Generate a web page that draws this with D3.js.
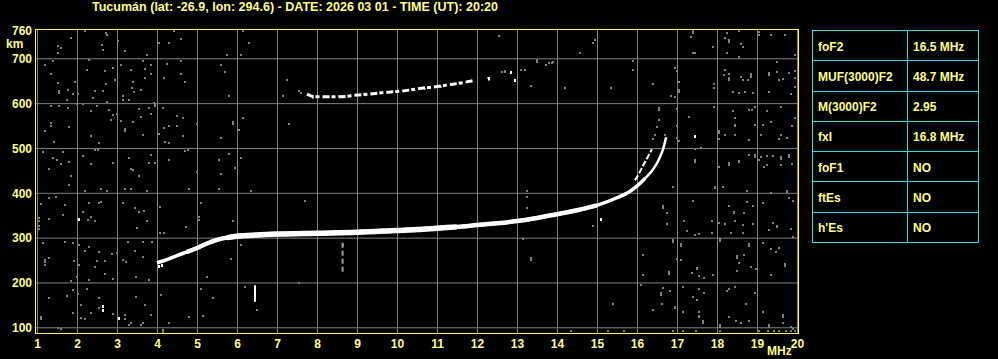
<!DOCTYPE html>
<html>
<head>
<meta charset="utf-8">
<script src="https://cdn.jsdelivr.net/npm/d3@7"></script>
<style>
html, body { margin: 0; padding: 0; background: #000; }
svg { display: block; }
text { font-family: "Liberation Sans", Arial, sans-serif; font-weight: bold; fill: #ffff80; }
</style>
</head>
<body>
<svg id="chart" width="998" height="359"></svg>
<script>
const titleText = "Tucumán (lat: -26.9, lon: 294.6) - DATE: 2026 03 01 - TIME (UT): 20:20";
const freqTicks = [1, 2, 3, 4, 5, 6, 7, 8, 9, 10, 11, 12, 13, 14, 15, 16, 17, 18, 19, 20];
const heightTicks = [100, 200, 300, 400, 500, 600, 700];

// table of scaled parameters
const paramNames = ["foF2", "MUF(3000)F2", "M(3000)F2", "fxI", "foF1", "ftEs", "h'Es"];
const paramValues = ["16.5 MHz", "48.7 MHz", "2.95", "16.8 MHz", "NO", "NO", "NO"];

// F2 trace, ordinary (freq MHz, virtual height km)
const traceF2 = [[4.0, 244], [4.25, 251], [4.5, 260], [4.75, 268], [5.0, 277], [5.25, 287], [5.5, 295],
  [5.75, 300], [6.0, 303], [6.5, 306], [7.0, 308], [8.0, 310], [9.0, 312], [10.0, 316], [10.5, 318],
  [11.0, 321], [11.5, 324], [12.0, 328], [12.5, 332], [13.0, 337], [13.5, 344], [14.0, 352], [14.5, 361],
  [15.0, 372], [15.5, 389], [15.8, 402], [16.0, 415], [16.2, 432], [16.4, 452], [16.55, 475],
  [16.65, 497], [16.73, 524]];
// second branch near the cusp
const traceX = [[15.95, 428], [16.05, 443], [16.16, 462], [16.27, 480], [16.37, 497]];
// second hop echo
const trace2F = [[7.75, 620], [7.95, 614], [8.3, 614], [8.7, 615], [9.0, 618], [9.3, 620], [9.7, 624],
  [10.0, 626], [10.3, 629], [10.6, 633], [11.0, 637], [11.3, 641], [11.6, 645], [11.9, 650]];

// vertical streaks: freq, h low, h high
const streaks = [[6.45, 157, 194], [8.64, 224, 291]];

const whiteDots = [[2.04, 342], [2.64, 147], [2.66, 138], [3.04, 121], [12.85, 669], [12.95, 652],
  [12.3, 655], [17.44, 526], [15.1, 341], [4.05, 236], [4.12, 239]];

const noiseLeft = [
  [2.2,762],[2.72,756],[2.74,752],[1.85,745],[1.52,727],[1.6,723],[1.52,712],[2.62,730],[2.64,718],[3.02,739],[3.2,717],
  [4.04,734],[4.31,734],[4.6,744],[4.42,762],[3.74,708],[1.2,686],[1.39,693],[1.35,666],[2.29,697],[2.24,675],
  [2.7,671],[2.89,678],[3.1,684],[3.35,675],[3.64,693],[3.7,677],[3.85,684],[3.85,666],[4.24,688],[4.6,693],
  [4.6,666],[4.18,656],[3.7,656],[2.95,652],[4.7,647],[1.52,645],[1.54,623],[1.54,628],[1.95,647],[1.78,630],
  [1.89,620],[2.02,620],[1.74,608],[2.45,626],[2.64,626],[2.72,643],[2.41,611],[3.14,617],[3.16,608],[3.31,608],
  [3.39,647],[3.37,634],[3.43,624],[3.6,630],[2.75,603],[3.93,600],[1.35,594],[1.54,594],[1.78,589],[1.99,597],
  [2.14,598],[2.49,594],[2.35,582],[2.81,585],[2.89,574],[3.0,576],[2.85,563],[3.1,561],[3.21,538],[3.21,543],
  [3.39,558],[3.54,588],[3.6,568],[3.66,528],[3.81,589],[3.85,575],[3.95,597],[3.95,593],[4.14,589],[4.04,531],
  [4.18,545],[4.31,550],[4.49,571],[4.64,567],[4.64,526],[4.49,550],[4.2,513],[4.31,512],[1.35,556],[1.35,550],
  [1.2,537],[1.43,513],[1.79,546],[2.35,527],[2.54,511],[1.14,491],[1.39,478],[1.5,474],[1.6,464],[1.64,491],
  [1.79,469],[1.31,452],[1.85,438],[2.14,483],[2.35,464],[2.46,496],[2.53,496],[2.89,466],[3.29,478],[3.35,452],
  [3.39,450],[3.56,438],[3.81,466],[3.85,485],[3.94,466],[4.29,474],[4.7,494],[4.78,495],
  [1.79,417],[2.21,404],[2.6,408],[2.76,404],[3.21,408],[3.35,408],[3.74,404],[4.81,408],[1.09,375],[1.31,388],
  [1.48,390],[1.7,373],[1.64,350],[1.04,343],[1.04,337],[1.06,320],[1.06,325],[1.29,342],[2.14,358],[2.29,377],
  [2.54,377],[2.6,380],[2.35,345],[2.27,339],[2.46,338],[3.16,377],[3.46,365],[3.54,358],[3.68,359],[3.49,322],
  [3.75,338],[4.08,369],[4.18,310],[4.08,310],[4.73,324],[1.14,289],[1.71,291],[1.89,289],[2.06,284],[2.21,271],
  [2.54,269],[2.3,280],[2.88,264],[2.99,266],[3.27,291],[3.46,271],[3.65,291],[3.88,291],[1.19,239],[1.19,245],
  [1.19,250],[1.31,254],[1.93,248],[2.04,240],[2.49,248],[2.71,247],[2.46,234],[2.71,220],[2.91,207],[3.16,251],
  [3.22,246],[3.48,213],[3.66,256],[3.79,205],[1.85,203],[2.0,213],[2.29,205],[1.29,165],[1.74,170],[1.89,183],
  [2.24,185],[2.1,150],[2.02,174],[2.54,165],[2.54,143],[2.35,131],[2.1,120],[2.19,119],[1.89,131],[1.1,122],
  [1.09,118],[1.52,98],[1.6,96],[2.91,130],[3.21,127],[3.21,119],[3.35,110],[3.48,167],[3.69,150],[3.64,109],
  [3.84,127],[3.6,105],[3.31,105],[4.14,90],[4.14,95],[4.31,109],[4.1,172],[4.79,122]
];

const noiseMid = [
  [6.14,762],[6.29,734],[5.74,708],[6.09,708],[5.6,684],[5.7,669],[7.24,652],[5.79,617],[7.14,617],[5.0,554],
  [5.6,522],[5.89,557],[5.89,553],[6.04,541],[6.14,567],[7.29,553],[5.0,446],[5.54,474],[5.79,487],[5.6,442],
  [5.95,455],[6.1,478],[5.54,408],[6.35,404],[5.04,345],[5.04,340],[5.1,378],[5.89,338],[7.71,382],[5.24,213],
  [5.85,252],[6.1,284],[7.56,198],[5.14,125],[5.1,185],[5.39,165],[6.2,191],[6.49,139],[7.6,622],[7.55,628],
  [7.9,612],[8.2,614],[8.55,616],[9.6,622],[10.7,632],[11.1,637],[12.27,656],[12.3,652],[12.54,749],[14.89,734],
  [14.94,740],[14.58,712],[13.49,696],[13.49,692],[13.72,686],[13.79,690],[13.87,690],[13.9,691],[13.1,675],
  [13.2,675],[12.71,669],[12.71,672],[12.62,670],[13.35,639],[14.2,634],[15.35,634],[15.89,693],[15.89,675],
  [13.14,296],[13.35,250],[13.35,254],[13.24,404],[13.24,391],[13.24,365],[14.89,325],[15.39,152],[14.35,92],
  [15.27,92],[15.68,92],[8.64,283]
];

const noiseRight = [
  [16.39,643],[16.85,615],[16.96,678],[17.0,672],[17.04,647],[17.04,625],[17.04,629],[16.96,613],[16.54,589],
  [16.54,585],[16.54,563],[16.49,546],[16.46,530],[16.7,528],[16.39,519],[17.0,587],[17.0,548],[17.04,515],
  [17.29,568],[17.39,760],[17.39,756],[17.34,748],[17.39,712],[17.46,712],[17.89,725],[18.24,756],[18.2,745],
  [18.3,740],[18.3,736],[18.54,762],[18.6,733],[18.65,725],[18.24,712],[18.54,703],[19.04,759],[19.04,752],
  [19.35,753],[19.7,753],[19.96,708],[19.49,692],[19.49,670],[19.96,671],[19.8,667],[19.3,667],[19.3,662],
  [19.66,653],[19.56,651],[19.96,655],[19.96,637],[19.86,620],[19.3,625],[18.21,675],[18.17,662],[18.3,665],
  [18.29,652],[18.29,656],[18.6,658],[18.85,665],[18.85,661],[18.85,658],[18.65,651],[18.77,651],[17.93,643],
  [17.93,633],[18.39,624],[18.54,623],[18.7,624],[18.9,623],[18.87,585],[18.95,592],[18.79,585],[18.39,583],
  [17.93,592],[18.46,567],[19.14,552],[19.24,583],[19.35,557],[19.6,591],[19.96,567],[19.88,548],[18.95,551],
  [18.46,548],[18.46,552],[18.04,533],[18.04,537],[18.2,529],[18.46,528],[19.1,528],[19.6,529],[19.74,523],
  [19.56,521],[18.79,518],[18.04,519],[17.6,500],[17.46,497],[17.44,469],[17.44,473],[18.79,484],[18.95,484],
  [18.95,480],[19.09,480],[19.24,481],[19.39,481],[19.6,480],[19.6,476],[19.8,484],[19.8,480],[19.04,474],
  [18.54,472],[18.54,468],[18.3,467],[18.3,462],[19.24,461],[19.6,462],[19.88,465],[19.18,457],[18.04,457],
  [17.46,469],[17.0,523],
  [16.91,414],[17.96,414],[17.96,410],[18.14,414],[18.74,404],[19.35,399],[19.74,403],[19.74,399],[19.79,388],
  [19.89,382],[19.14,378],[18.74,380],[18.89,371],[18.31,371],[18.43,354],[18.43,358],[18.68,356],[16.64,371],
  [16.64,367],[16.74,354],[16.74,330],[17.39,382],[17.18,338],[17.88,338],[18.04,333],[18.21,330],[18.46,338],
  [18.64,328],[18.89,330],[19.41,333],[19.49,327],[19.49,323],[19.85,319],[19.29,316],[19.89,302],[19.14,289],
  [17.24,315],[17.46,306],[17.56,308],[17.88,311],[18.35,311],[18.64,311],[18.08,293],[18.08,297],[16.89,291],
  [16.89,295],[17.1,281],[17.1,285],[18.79,281],[18.79,285],[19.35,274],[19.48,269],[19.54,276],[16.14,261],
  [16.99,252],[17.1,249],[18.49,254],[18.49,258],[18.54,244],[18.68,261],[18.85,235],[18.97,229],[18.49,226],
  [19.71,237],[19.71,241],[17.49,229],[17.49,233],[17.37,222],[17.56,214],[17.68,209],[16.79,219],[16.79,223],
  [16.14,217],[17.89,217],[19.35,217],[16.1,194],[16.64,187],[16.83,182],[16.6,172],[16.6,176],[16.63,152],
  [17.14,191],[17.39,168],[17.5,162],[17.56,185],[17.68,176],[18.31,185],[18.25,180],[18.46,189],[18.96,177],
  [16.41,139],[16.96,142],[16.96,146],[17.14,135],[17.56,135],[17.54,122],[17.54,126],[17.64,110],[17.64,114],
  [18.29,122],[18.48,115],[18.73,152],[19.14,135],[19.64,124],[19.64,128],[19.64,109],[19.85,101],[19.29,101],
  [19.29,105],[18.6,109],[18.81,113],[18.08,101],[18.08,105],[16.89,92],[17.14,92],[17.48,92],[18.08,92],
  [19.04,92],[19.27,92],[19.43,92],[19.56,92],[19.73,92],[19.85,92],[19.96,92],[19.9,96]
];

const svg = d3.select("#chart");

const x = d3.scaleLinear().domain([1, 20]).range([37, 797]);
const y = d3.scaleLinear().domain([100, 700]).range([327.3, 58.3]);

const frame = { left: 35.5, right: 798.5, top: 29.5, bottom: 333.5 };
const gridColor = "#808080";

// Title
svg.append("text")
    .attr("x", 92)
    .attr("y", 11)
    .attr("textLength", 406)
    .attr("lengthAdjust", "spacingAndGlyphs")
    .style("font-size", "12.5px")
    .text(titleText);

// X grid + labels
const xAxis = svg.append("g")
    .attr("transform", `translate(0, ${frame.bottom})`)
    .call(d3.axisBottom(x).tickValues(freqTicks).tickSize(-(frame.bottom - frame.top)).tickPadding(6));
xAxis.select(".domain").remove();
xAxis.selectAll("line").attr("stroke", gridColor);
xAxis.selectAll("text")
    .attr("fill", "#ffff80")
    .style("font-family", "'Liberation Sans', Arial, sans-serif")
    .style("font-weight", "bold")
    .style("font-size", "12px");

// Y grid + labels
const yAxis = svg.append("g")
    .attr("transform", `translate(${frame.left + 0.5}, 0)`)
    .call(d3.axisLeft(y).tickValues(heightTicks).tickSize(-(frame.right - frame.left)).tickPadding(4));
yAxis.select(".domain").remove();
yAxis.selectAll("line").attr("stroke", gridColor);
yAxis.selectAll("text")
    .attr("fill", "#ffff80")
    .attr("dy", "0.36em")
    .style("font-family", "'Liberation Sans', Arial, sans-serif")
    .style("font-weight", "bold")
    .style("font-size", "12px");

svg.append("text").attr("x", 32).attr("y", 35).attr("text-anchor", "end")
    .style("font-size", "12px").text("760");
svg.append("text").attr("x", 6).attr("y", 48)
    .style("font-size", "12px").text("km");
svg.append("text").attr("x", 767).attr("y", 355)
    .style("font-size", "12px").text("MHz");

// Plot content
const plot = svg.append("g");

// noise
plot.selectAll(".noise")
    .data(noiseLeft.concat(noiseMid, noiseRight))
    .join("rect")
    .attr("class", "noise")
    .attr("x", d => Math.round(x(d[0])) - 1)
    .attr("y", d => Math.round(y(d[1])) - 1)
    .attr("width", 2)
    .attr("height", 2)
    .attr("fill", gridColor);

const line = d3.line()
    .x(d => x(d[0]))
    .y(d => y(d[1]))
    .curve(d3.curveMonotoneX);

// second hop
plot.append("path")
    .attr("d", line(trace2F))
    .attr("fill", "none")
    .attr("stroke", "#fff")
    .attr("stroke-width", 3)
    .attr("stroke-dasharray", "7 2 4 3");

// main F2 trace, thicker in the flat part
const traceWidths = [[4.0, 16.8, 2.5], [4.0, 16.2, 3.5], [4.6, 15.3, 4.5], [5.7, 11.5, 5.5]];
traceWidths.forEach(([f0, f1, w]) => {
    plot.append("path")
        .attr("d", line(traceF2.filter(d => d[0] >= f0 && d[0] <= f1)))
        .attr("fill", "none")
        .attr("stroke", "#fff")
        .attr("stroke-width", w);
});

plot.append("path")
    .attr("d", line(traceX))
    .attr("fill", "none")
    .attr("stroke", "#fff")
    .attr("stroke-width", 2)
    .attr("stroke-dasharray", "6 2");

plot.selectAll(".streak")
    .data(streaks)
    .join("line")
    .attr("x1", d => x(d[0]))
    .attr("x2", d => x(d[0]))
    .attr("y1", d => y(d[1]))
    .attr("y2", d => y(d[2]))
    .attr("stroke", (d, i) => i === 0 ? "#fff" : "#a0a0a0")
    .attr("stroke-width", 2)
    .attr("stroke-dasharray", (d, i) => i === 0 ? null : "5 3");

plot.selectAll(".white")
    .data(whiteDots)
    .join("rect")
    .attr("x", d => Math.round(x(d[0])) - 1)
    .attr("y", d => Math.round(y(d[1])) - 1)
    .attr("width", 2)
    .attr("height", 3)
    .attr("fill", "#fff");

// frame
svg.append("rect")
    .attr("x", frame.left)
    .attr("y", frame.top)
    .attr("width", frame.right - frame.left)
    .attr("height", frame.bottom - frame.top)
    .attr("fill", "none")
    .attr("stroke", "#ffff20")
    .attr("stroke-width", 1);

// Parameter table
const tbl = { left: 812.5, right: 978.5, mid: 907.5, top: 30, bottom: 242 };
const rowY = d3.scaleLinear().domain([0, paramNames.length]).range([tbl.top, tbl.bottom]);
const table = svg.append("g");

table.append("rect")
    .attr("x", tbl.left).attr("y", tbl.top + 0.5)
    .attr("width", tbl.right - tbl.left).attr("height", tbl.bottom - tbl.top)
    .attr("fill", "none").attr("stroke", "#20e0e8");
table.append("line")
    .attr("x1", tbl.mid).attr("x2", tbl.mid)
    .attr("y1", tbl.top).attr("y2", tbl.bottom)
    .attr("stroke", "#20e0e8");
table.selectAll(".rowline")
    .data(d3.range(1, paramNames.length))
    .join("line")
    .attr("x1", tbl.left).attr("x2", tbl.right)
    .attr("y1", d => Math.round(rowY(d)) + 0.5)
    .attr("y2", d => Math.round(rowY(d)) + 0.5)
    .attr("stroke", "#20e0e8");

table.selectAll(".pname")
    .data(paramNames)
    .join("text")
    .attr("x", 818)
    .attr("y", (d, i) => rowY(i) + 20.5)
    .style("font-size", "12px")
    .text(d => d);
table.selectAll(".pval")
    .data(paramValues)
    .join("text")
    .attr("x", 913)
    .attr("y", (d, i) => rowY(i) + 20.5)
    .style("font-size", "12px")
    .text(d => d);
</script>
</body>
</html>
